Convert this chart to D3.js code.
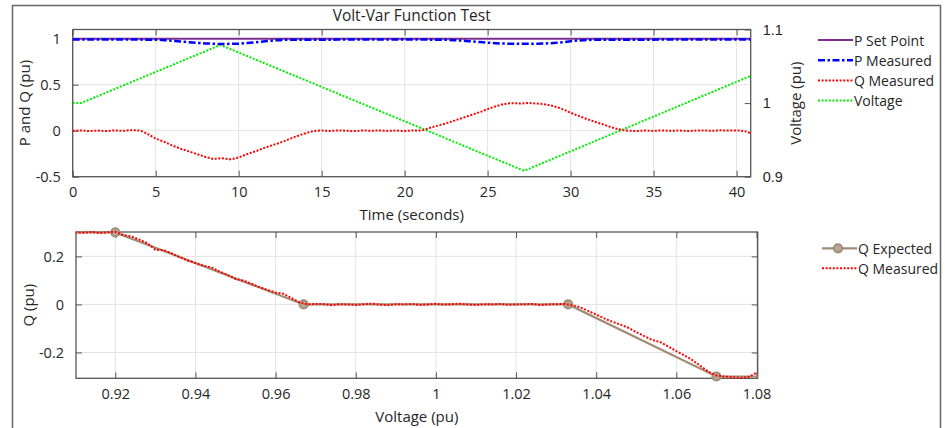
<!DOCTYPE html>
<html>
<head>
<meta charset="utf-8">
<script src="https://cdn.jsdelivr.net/npm/d3@7"></script>
<style>
  body { margin: 0; background: #fff; }
  svg { display: block; font-family: "Open Sans", sans-serif; }
  .tick text { fill: #262626; }
</style>
</head>
<body>
<svg id="chart" width="945" height="428"></svg>
<script>
// ---- data ----
const pSetTime = [0, 40.85];
const pSetValue = [1.0, 1.0];

const pMeasTime = [0, 2, 4, 5, 5.5, 6, 6.5, 7, 7.5, 8, 8.5, 9, 9.5, 10, 10.5, 11, 11.5, 12, 13, 16, 20, 22, 23, 23.5, 24, 24.5, 25, 25.5, 26, 26.5, 27, 27.5, 28, 28.5, 29, 29.5, 30, 30.5, 31, 32, 36, 40.85];
const pMeasValue = [0.990, 0.991, 0.990, 0.989, 0.984, 0.977, 0.970, 0.962, 0.955, 0.949, 0.945, 0.943, 0.944, 0.946, 0.952, 0.960, 0.970, 0.979, 0.988, 0.990, 0.991, 0.989, 0.984, 0.978, 0.971, 0.964, 0.957, 0.951, 0.947, 0.945, 0.944, 0.944, 0.945, 0.948, 0.954, 0.962, 0.972, 0.981, 0.986, 0.989, 0.990, 0.990];

const qTime = [0, 0.5, 1, 1.5, 2, 2.5, 3, 3.5, 4, 4.5, 5, 5.5, 6, 6.5, 7, 7.5, 8, 8.5, 9, 9.5, 10, 10.5, 11, 11.5, 12, 12.5, 13, 13.5, 14, 14.5, 15, 15.5, 16, 16.5, 17, 17.5, 18, 18.5, 19, 19.5, 20, 20.5, 21, 21.5, 22, 22.5, 23, 23.5, 24, 24.5, 25, 25.5, 26, 26.5, 27, 27.5, 28, 28.5, 29, 29.5, 30, 30.5, 31, 31.5, 32, 32.5, 33, 33.5, 34, 34.5, 35, 35.5, 36, 36.5, 37, 37.5, 38, 38.5, 39, 39.5, 40, 40.5, 40.85];
const qValue = [0.000, 0.002, -0.003, 0.001, -0.004, 0.003, -0.002, 0.006, 0.002, -0.035, -0.085, -0.120, -0.160, -0.195, -0.225, -0.255, -0.285, -0.305, -0.300, -0.310, -0.290, -0.255, -0.225, -0.190, -0.160, -0.130, -0.095, -0.060, -0.030, -0.005, 0.002, -0.003, 0.003, 0.000, -0.004, 0.002, -0.001, 0.003, -0.002, 0.001, -0.003, 0.002, 0.003, 0.030, 0.055, 0.080, 0.110, 0.140, 0.170, 0.200, 0.235, 0.265, 0.290, 0.298, 0.296, 0.300, 0.295, 0.285, 0.265, 0.235, 0.195, 0.160, 0.125, 0.095, 0.065, 0.035, 0.012, 0.000, -0.003, 0.002, -0.002, 0.003, -0.001, 0.002, -0.003, 0.001, 0.003, -0.002, 0.004, 0.001, 0.002, -0.005, -0.030];

const voltTime = [0, 0.5, 8.9, 27.2, 40.85];
const voltValue = [1.0, 1.0, 1.079, 0.908, 1.037];

const curveVolt = [0.90, 0.92, 0.967, 1.033, 1.07, 1.10];
const curveQ = [0.3, 0.3, 0, 0, -0.3, -0.3];

const measVolt = [0.910, 0.912, 0.914, 0.916, 0.918, 0.920, 0.922, 0.924, 0.926, 0.928, 0.930, 0.932, 0.934, 0.936, 0.938, 0.940, 0.942, 0.944, 0.946, 0.948, 0.950, 0.952, 0.954, 0.956, 0.958, 0.960, 0.962, 0.964, 0.966, 0.968, 0.970, 0.972, 0.974, 0.976, 0.978, 0.980, 0.982, 0.984, 0.986, 0.988, 0.990, 0.992, 0.994, 0.996, 0.998, 1.000, 1.002, 1.004, 1.006, 1.008, 1.010, 1.012, 1.014, 1.016, 1.018, 1.020, 1.022, 1.024, 1.026, 1.028, 1.030, 1.032, 1.034, 1.036, 1.038, 1.040, 1.042, 1.044, 1.046, 1.048, 1.050, 1.052, 1.054, 1.056, 1.058, 1.060, 1.062, 1.064, 1.066, 1.068, 1.070, 1.072, 1.074, 1.076, 1.078, 1.080];
const measQ = [0.300, 0.298, 0.301, 0.297, 0.300, 0.302, 0.289, 0.283, 0.270, 0.255, 0.228, 0.226, 0.213, 0.197, 0.183, 0.172, 0.161, 0.154, 0.137, 0.123, 0.106, 0.099, 0.086, 0.072, 0.060, 0.050, 0.044, 0.026, 0.008, 0.000, 0.002, 0.001, -0.003, 0.001, 0.000, -0.002, 0.001, 0.003, -0.001, -0.003, 0.001, 0.000, 0.002, -0.002, 0.000, 0.003, -0.001, 0.001, 0.003, 0.000, -0.002, 0.001, 0.000, 0.002, -0.001, 0.000, 0.001, 0.002, -0.003, 0.000, 0.001, 0.002, -0.003, -0.012, -0.027, -0.042, -0.058, -0.072, -0.084, -0.097, -0.115, -0.132, -0.148, -0.157, -0.175, -0.194, -0.212, -0.232, -0.256, -0.280, -0.296, -0.300, -0.303, -0.306, -0.302, -0.285];

const timeTicks = [0, 5, 10, 15, 20, 25, 30, 35, 40];
const pqTicks = [-0.5, 0, 0.5, 1];
const voltTicks = [0.9, 1, 1.1];
const curveXTicks = [0.92, 0.94, 0.96, 0.98, 1, 1.02, 1.04, 1.06, 1.08];
const curveYTicks = [-0.2, 0, 0.2];

const topLegend = ['P Set Point', 'P Measured', 'Q Measured', 'Voltage'];
const bottomLegend = ['Q Expected', 'Q Measured'];

// ---- styles ----
const AXIS_COLOR = '#555';
const GRID_COLOR = '#e3e3e3';
const TEXT_COLOR = '#262626';
const C_PSET = '#7E2F8E';
const C_PMEAS = '#0000ff';
const C_Q = '#ff0000';
const C_V = '#00ee00';
const C_EXP = '#a08c74';
const TICK_LEN = 6;

const fmt = d => String(+d.toFixed(3));
const zip = (a, b) => a.map((v, i) => [v, b[i]]);

const svg = d3.select('#chart');

// outer frame
svg.append('rect')
  .attr('x', 12.5).attr('y', 5.5)
  .attr('width', 928).attr('height', 430)
  .attr('fill', 'none').attr('stroke', '#666').attr('stroke-width', 1.5);

const drawAxes = (g, box, x, y, xTicks, yTicks, opts) => {
  // grid
  g.append('g').selectAll('line').data(xTicks).join('line')
    .attr('x1', d => x(d)).attr('x2', d => x(d))
    .attr('y1', box.top).attr('y2', box.bottom)
    .attr('stroke', GRID_COLOR);
  g.append('g').selectAll('line').data(yTicks).join('line')
    .attr('x1', box.left).attr('x2', box.right)
    .attr('y1', d => y(d)).attr('y2', d => y(d))
    .attr('stroke', GRID_COLOR);

  const xb = g.append('g').attr('transform', `translate(0,${box.bottom})`)
    .call(d3.axisBottom(x).tickValues(xTicks).tickFormat(fmt).tickSizeInner(-TICK_LEN).tickSizeOuter(0).tickPadding(10));
  const xt = g.append('g').attr('transform', `translate(0,${box.top})`)
    .call(d3.axisTop(x).tickValues(xTicks).tickFormat('').tickSizeInner(-TICK_LEN).tickSizeOuter(0));
  const yl = g.append('g').attr('transform', `translate(${box.left},0)`)
    .call(d3.axisLeft(y).tickValues(yTicks).tickFormat(fmt).tickSizeInner(-TICK_LEN).tickSizeOuter(0).tickPadding(12));
  [xb, xt, yl].forEach(a => {
    a.select('.domain').remove();
    a.selectAll('.tick line').attr('stroke', AXIS_COLOR);
    a.selectAll('.tick text').attr('font-size', 14.5).attr('font-family', '"Open Sans", sans-serif').attr('fill', TEXT_COLOR);
  });
  if (opts.mirrorY) {
    const yr = g.append('g').attr('transform', `translate(${box.right},0)`)
      .call(d3.axisRight(y).tickValues(yTicks).tickFormat('').tickSizeInner(-TICK_LEN).tickSizeOuter(0));
    yr.select('.domain').remove();
    yr.selectAll('.tick line').attr('stroke', AXIS_COLOR);
  }
  g.append('rect')
    .attr('x', box.left).attr('y', box.top)
    .attr('width', box.right - box.left).attr('height', box.bottom - box.top)
    .attr('fill', 'none').attr('stroke', AXIS_COLOR).attr('stroke-width', 1.3);
};

const addText = (g, txt, x, y, size, rot) => {
  const t = g.append('text').text(txt)
    .attr('font-size', size).attr('fill', TEXT_COLOR)
    .attr('text-anchor', 'middle').attr('dominant-baseline', 'central');
  if (rot) t.attr('transform', `translate(${x},${y}) rotate(${rot})`);
  else t.attr('x', x).attr('y', y);
  return t;
};

// ================= top chart =================
const topBox = { left: 72.7, right: 750.7, top: 29.5, bottom: 176.7 };
const xTime = d3.scaleLinear().domain([0, 40.85]).range([topBox.left, topBox.right]);
const yPQ = d3.scaleLinear().domain([-0.5, 1.1]).range([topBox.bottom, topBox.top]);
const yVolt = d3.scaleLinear().domain([0.9, 1.1]).range([topBox.bottom, topBox.top]);

const gTop = svg.append('g');
svg.append('clipPath').attr('id', 'clipTop').append('rect')
  .attr('x', topBox.left).attr('y', topBox.top - 2)
  .attr('width', topBox.right - topBox.left).attr('height', topBox.bottom - topBox.top + 4);

drawAxes(gTop, topBox, xTime, yPQ, timeTicks, pqTicks, { mirrorY: false });

// right axis (voltage)
const yrAx = gTop.append('g').attr('transform', `translate(${topBox.right},0)`)
  .call(d3.axisRight(yVolt).tickValues(voltTicks).tickFormat(fmt).tickSizeInner(-TICK_LEN).tickSizeOuter(0).tickPadding(12));
yrAx.select('.domain').remove();
yrAx.selectAll('.tick line').attr('stroke', AXIS_COLOR);
yrAx.selectAll('.tick text').attr('font-size', 14.5).attr('fill', TEXT_COLOR);

const lineT = (ys) => d3.line().x(d => xTime(d[0])).y(d => ys(d[1]));
const plotTop = gTop.append('g').attr('clip-path', 'url(#clipTop)');

plotTop.append('path').datum(zip(voltTime, voltValue))
  .attr('d', lineT(yVolt)).attr('fill', 'none')
  .attr('stroke', C_V).attr('stroke-width', 2).attr('stroke-dasharray', '2,1.6');
plotTop.append('path').datum(zip(qTime, qValue))
  .attr('d', lineT(yPQ).curve(d3.curveMonotoneX)).attr('fill', 'none')
  .attr('stroke', C_Q).attr('stroke-width', 2).attr('stroke-dasharray', '2,1.6');
plotTop.append('path').datum(zip(pSetTime, pSetValue))
  .attr('d', lineT(yPQ)).attr('fill', 'none')
  .attr('stroke', C_PSET).attr('stroke-width', 2);
plotTop.append('path').datum(zip(pMeasTime, pMeasValue))
  .attr('d', lineT(yPQ).curve(d3.curveMonotoneX)).attr('fill', 'none')
  .attr('stroke', C_PMEAS).attr('stroke-width', 2.5).attr('stroke-dasharray', '7,2.5,2.5,2.5');

addText(svg, 'Volt-Var Function Test', (topBox.left + topBox.right) / 2, 15, 15.5);
addText(svg, 'Time (seconds)', (topBox.left + topBox.right) / 2, 214, 15);
addText(svg, 'P and Q (pu)', 24, (topBox.top + topBox.bottom) / 2, 15, -90);
addText(svg, 'Voltage (pu)', 795, (topBox.top + topBox.bottom) / 2, 15, -90);

// top legend
const topStyles = [
  { c: C_PSET, w: 2, dash: null },
  { c: C_PMEAS, w: 2.5, dash: '7,2.5,2.5,2.5' },
  { c: C_Q, w: 2, dash: '2,1.6' },
  { c: C_V, w: 2, dash: '2,1.6' }
];
const lgTop = svg.append('g');
topLegend.forEach((name, i) => {
  const yy = 40 + i * 20.2;
  lgTop.append('line').attr('x1', 818).attr('x2', 853).attr('y1', yy).attr('y2', yy)
    .attr('stroke', topStyles[i].c).attr('stroke-width', topStyles[i].w)
    .attr('stroke-dasharray', topStyles[i].dash);
  lgTop.append('text').text(name).attr('x', 854).attr('y', yy)
    .attr('font-size', 14).attr('fill', TEXT_COLOR).attr('dominant-baseline', 'central');
});

// ================= bottom chart =================
const botBox = { left: 76, right: 757.7, top: 232, bottom: 378.3 };
const xV = d3.scaleLinear().domain([0.9102, 1.0803]).range([botBox.left, botBox.right]);
const yQ = d3.scaleLinear().domain([-0.3075, 0.3015]).range([botBox.bottom, botBox.top]);

const gBot = svg.append('g');
svg.append('clipPath').attr('id', 'clipBot').append('rect')
  .attr('x', botBox.left).attr('y', botBox.top - 5)
  .attr('width', botBox.right - botBox.left).attr('height', botBox.bottom - botBox.top + 10);

drawAxes(gBot, botBox, xV, yQ, curveXTicks, curveYTicks, { mirrorY: true });

const plotBot = gBot.append('g').attr('clip-path', 'url(#clipBot)');
const lineB = d3.line().x(d => xV(d[0])).y(d => yQ(d[1]));

plotBot.append('path').datum(zip(curveVolt, curveQ))
  .attr('d', lineB).attr('fill', 'none')
  .attr('stroke', C_EXP).attr('stroke-width', 2.2);
plotBot.selectAll('circle').data(zip(curveVolt, curveQ)).join('circle')
  .attr('cx', d => xV(d[0])).attr('cy', d => yQ(d[1])).attr('r', 4.2)
  .attr('fill', '#b5a795').attr('stroke', C_EXP).attr('stroke-width', 1.8);
plotBot.append('path').datum(zip(measVolt, measQ))
  .attr('d', lineB).attr('fill', 'none')
  .attr('stroke', C_Q).attr('stroke-width', 2).attr('stroke-dasharray', '2,1.6');

addText(svg, 'Voltage (pu)', (botBox.left + botBox.right) / 2, 416, 15);
addText(svg, 'Q (pu)', 28, (botBox.top + botBox.bottom) / 2, 15, -90);

// bottom legend
const lgBot = svg.append('g');
bottomLegend.forEach((name, i) => {
  const yy = 248.3 + i * 20;
  if (i === 0) {
    lgBot.append('line').attr('x1', 822).attr('x2', 857).attr('y1', yy).attr('y2', yy)
      .attr('stroke', C_EXP).attr('stroke-width', 2.2);
    lgBot.append('circle').attr('cx', 838).attr('cy', yy).attr('r', 4.2)
      .attr('fill', '#b5a795').attr('stroke', C_EXP).attr('stroke-width', 1.8);
  } else {
    lgBot.append('line').attr('x1', 822).attr('x2', 857).attr('y1', yy).attr('y2', yy)
      .attr('stroke', C_Q).attr('stroke-width', 2).attr('stroke-dasharray', '2,1.6');
  }
  lgBot.append('text').text(name).attr('x', 858).attr('y', yy)
    .attr('font-size', 14).attr('fill', TEXT_COLOR).attr('dominant-baseline', 'central');
});
</script>
</body>
</html>
